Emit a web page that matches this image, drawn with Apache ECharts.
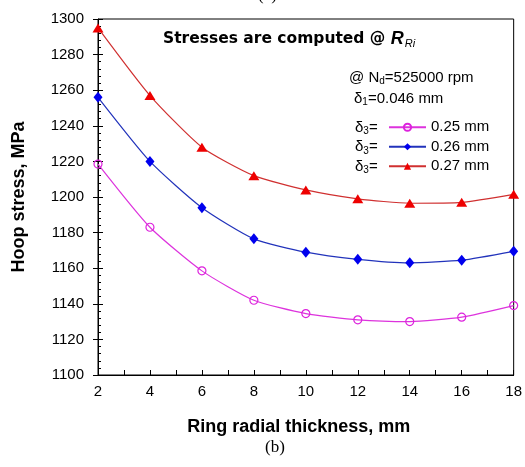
<!DOCTYPE html>
<html>
<head>
<meta charset="utf-8">
<script src="https://cdn.jsdelivr.net/npm/echarts@6/dist/echarts.min.js"></script>
<style>html,body{margin:0;padding:0;background:#fff;}#c{width:525px;height:467px;}</style>
</head>
<body>
<div id="c"></div>
<script>
const thickness = [2, 4, 6, 8, 10, 12, 14, 16, 18];
const d025 = [1218.5, 1183, 1158.5, 1142, 1134.5, 1131, 1130, 1132.5, 1139];
const d026 = [1256, 1220, 1194, 1176.5, 1169, 1165, 1163, 1164.5, 1169.5];
const d027 = [1295, 1257, 1228, 1212, 1204, 1199, 1196.5, 1197, 1201.5];
const seriesNames = ['0.25 mm', '0.26 mm', '0.27 mm'];
const yTicks = { min: 1100, max: 1300, interval: 20 };
const xTicks = { min: 2, max: 18, interval: 2 };

const pair = (arr) => thickness.map((x, i) => [x, arr[i]]);
const chart = echarts.init(document.getElementById('c'));
const sans = '"Liberation Sans", Arial, sans-serif';
const serif = '"Liberation Serif", "Times New Roman", serif';

chart.setOption({
  animation: false,
  backgroundColor: '#fff',
  grid: { left: 98, top: 19, width: 418, height: 356, show: true, borderColor: '#000', borderWidth: 1, backgroundColor: 'transparent' },
  xAxis: {
    type: 'value', min: xTicks.min, max: xTicks.max, interval: xTicks.interval,
    axisLine: { lineStyle: { color: '#000', width: 1 } },
    axisTick: { inside: true, length: 5, lineStyle: { color: '#000' } },
    minorTick: { show: true, splitNumber: 2, length: 5, lineStyle: { color: '#000' } },
    splitLine: { show: false },
    axisLabel: { fontFamily: sans, fontSize: 15, color: '#000', margin: 9, formatter: v => String(v) },
    name: 'Ring radial thickness, mm', nameLocation: 'middle', nameGap: 43,
    nameTextStyle: { fontFamily: sans, fontSize: 18, fontWeight: 'bold', color: '#000', padding: [0, 14, 0, 0] }
  },
  yAxis: [{
    type: 'value', min: yTicks.min, max: yTicks.max, interval: yTicks.interval,
    axisLine: { lineStyle: { color: '#000', width: 1 } },
    axisTick: { inside: false, length: 5, lineStyle: { color: '#000' } },
    splitLine: { show: false },
    axisLabel: { fontFamily: sans, fontSize: 15, color: '#000', margin: 14, formatter: v => String(v) },
    name: 'Hoop stress, MPa', nameLocation: 'middle', nameGap: 70,
    nameTextStyle: { fontFamily: sans, fontSize: 18, fontWeight: 'bold', color: '#000' }
  }, {
    type: 'value', min: yTicks.min, max: yTicks.max, interval: yTicks.interval, position: 'left',
    axisLine: { show: false },
    axisTick: { inside: true, length: 5, lineStyle: { color: '#000' } },
    minorTick: { show: true, splitNumber: 5, length: 3, lineStyle: { color: '#000' } },
    splitLine: { show: false },
    axisLabel: { show: false }
  }],
  legend: {
    orient: 'vertical', left: 388, top: 119, padding: 0, itemGap: 3,
    itemWidth: 37, itemHeight: 9,
    textStyle: { fontFamily: sans, fontSize: 15, color: '#000', lineHeight: 16.5 },
    data: seriesNames
  },
  series: [
    { name: seriesNames[0], type: 'line', data: pair(d025), smooth: 0.2,
      symbol: 'circle', symbolSize: 8,
      lineStyle: { color: '#dd33dd', width: 1.2 },
      itemStyle: { color: 'rgba(255,255,255,0)', borderColor: '#dd22dd', borderWidth: 1.2 } },
    { name: seriesNames[1], type: 'line', data: pair(d026), smooth: 0.2,
      symbol: 'diamond', symbolSize: [9, 11],
      lineStyle: { color: '#2233bb', width: 1.2 },
      itemStyle: { color: '#0000ee' } },
    { name: seriesNames[2], type: 'line', data: pair(d027), smooth: 0.2,
      symbol: 'triangle', symbolSize: [11, 9],
      lineStyle: { color: '#d03030', width: 1.2 },
      itemStyle: { color: '#ee0000' } }
  ],
  graphic: [
    { type: 'text', left: 258, top: -13, style: { text: '(a)', font: '17px ' + serif, fill: '#000' } },
    { type: 'text', left: 163, top: 30, style: {
      text: '{b|Stresses are computed @ }{r|R}{s|Ri}',
      rich: {
        b: { fontFamily: '"DejaVu Sans", Verdana, sans-serif', fontWeight: 'bold', fontSize: 15.5, fill: '#000', lineHeight: 21, verticalAlign: 'middle' },
        r: { fontFamily: sans, fontStyle: 'italic', fontWeight: 'bold', fontSize: 18, fill: '#000', lineHeight: 21, verticalAlign: 'middle' },
        s: { fontFamily: sans, fontStyle: 'italic', fontSize: 11, fill: '#000', lineHeight: 21, verticalAlign: 'bottom', padding: [0, 0, 0, 1] }
      } } },
    { type: 'text', left: 349, top: 70, style: {
      text: '{n|@ N}{s|d}{n|=525000 rpm}',
      rich: { n: { fontFamily: sans, fontSize: 15, fill: '#000', lineHeight: 18, verticalAlign: 'middle' },
              s: { fontFamily: sans, fontSize: 10, fill: '#000', lineHeight: 18, verticalAlign: 'bottom' } } } },
    { type: 'text', left: 354, top: 91, style: {
      text: '{n|δ}{s|1}{n|=0.046 mm}',
      rich: { n: { fontFamily: sans, fontSize: 15, fill: '#000', lineHeight: 18, verticalAlign: 'middle' },
              s: { fontFamily: sans, fontSize: 10, fill: '#000', lineHeight: 18, verticalAlign: 'bottom' } } } },
    ...[127, 146.5, 166].map(y => ({ type: 'text', left: 355, top: y - 7, style: {
      text: '{n|δ}{s|3}{n|=}',
      rich: { n: { fontFamily: sans, fontSize: 15, fill: '#000', lineHeight: 18, verticalAlign: 'middle' },
              s: { fontFamily: sans, fontSize: 10, fill: '#000', lineHeight: 18, verticalAlign: 'bottom' } } } })),
    { type: 'text', left: 265, top: 439, style: { text: '(b)', font: '17px ' + serif, fill: '#000' } }
  ]
});
</script>
</body>
</html>
